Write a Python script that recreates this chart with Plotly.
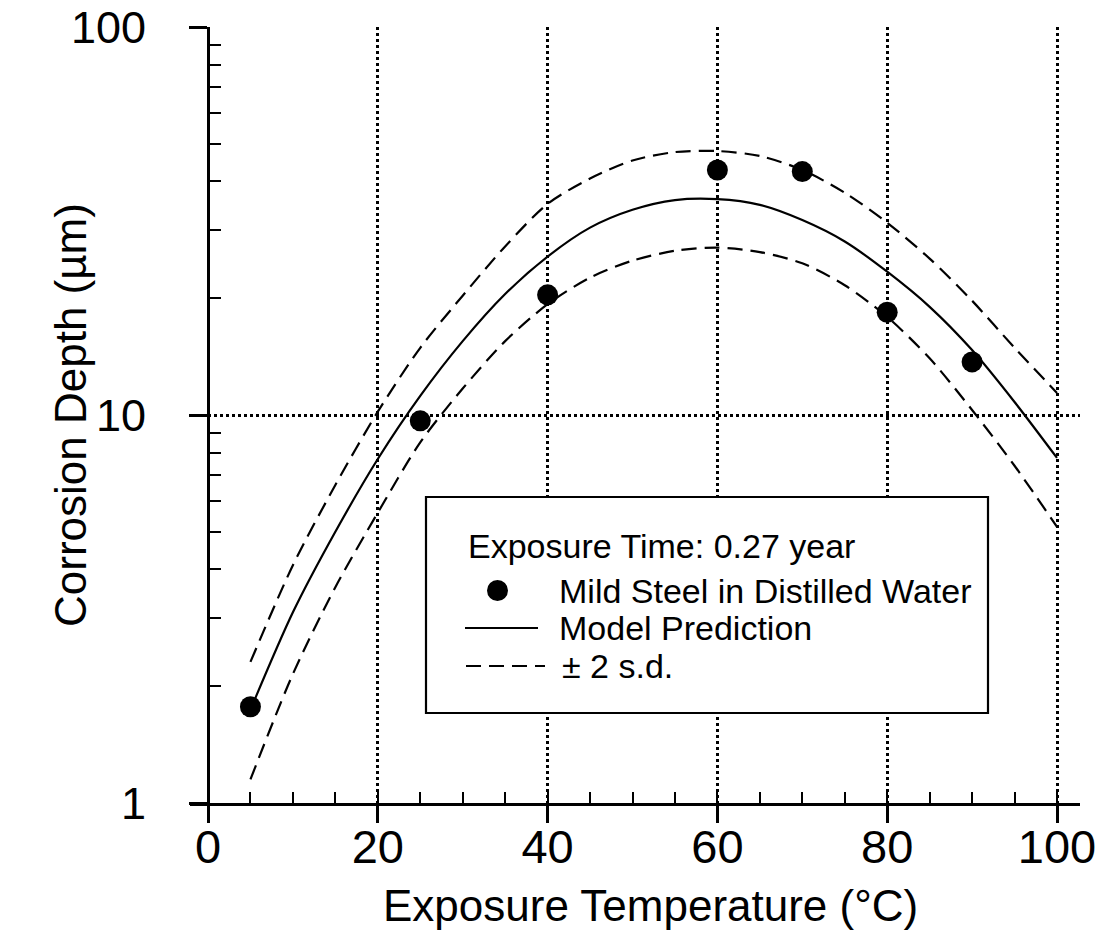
import plotly.graph_objects as go

# Measured corrosion depth of mild steel in distilled water (0.27 year exposure)
temp_obs = [5, 25, 40, 60, 70, 80, 90]
depth_obs = [1.77, 9.66, 20.4, 42.8, 42.4, 18.4, 13.7]

# Model prediction and +/- 2 s.d. band
temp_model = [5, 10, 15, 20, 25, 30, 35, 40, 45, 50,
              55, 60, 65, 70, 75, 80, 85, 90, 95, 100]
depth_model = [1.74, 3.1, 5.0, 7.7, 11.2, 15.5, 20.5, 25.6, 30.4, 33.8,
               35.8, 36.0, 34.8, 31.8, 28.0, 23.4, 19.0, 14.7, 10.8, 7.75]
depth_upper = [2.31, 4.1, 6.6, 10.2, 14.9, 20.3, 27.2, 35.0, 40.7, 45.3,
               47.6, 47.9, 46.5, 42.8, 37.4, 31.3, 25.3, 19.7, 14.9, 11.4]
depth_lower = [1.15, 2.15, 3.6, 5.6, 8.5, 11.7, 15.5, 19.3, 22.6, 25.0,
               26.5, 27.0, 26.3, 24.6, 21.6, 17.9, 14.0, 10.3, 7.4, 5.15]

x_major = [0, 20, 40, 60, 80, 100]
y_major = [1, 10, 100]
y_major_text = ["1", "10", "100"]
y_minor = [2, 3, 4, 5, 6, 7, 8, 9, 20, 30, 40, 50, 60, 70, 80, 90]

legend_title = "Exposure Time: 0.27 year"
name_obs = "Mild Steel in Distilled Water"
name_model = "Model Prediction"
name_band = "\u00b1 2 s.d."

W, H = 1102, 952
ML, MR, MT, MB = 190, 22, 27, 149
PW, PH = W - ML - MR, H - MT - MB
FONT = "Liberation Sans, Arial, sans-serif"
DASH = "15px,8px"
GRID_DASH = "2.5px,3.5px"


def px(x):
    return (x - ML) / PW


def py(y):
    return (H - MB - y) / PH


fig = go.Figure()
line_style = dict(color="black", width=2.2, shape="spline", smoothing=0.8)
fig.add_trace(go.Scatter(x=temp_model, y=depth_upper, mode="lines",
                         line=dict(line_style, dash=DASH), showlegend=False))
fig.add_trace(go.Scatter(x=temp_model, y=depth_lower, mode="lines",
                         line=dict(line_style, dash=DASH), showlegend=False))
fig.add_trace(go.Scatter(x=temp_model, y=depth_model, mode="lines",
                         line=line_style, showlegend=False))
fig.add_trace(go.Scatter(x=temp_obs, y=depth_obs, mode="markers",
                         marker=dict(color="black", size=21, line=dict(width=0)),
                         showlegend=False))

x_lo = -18 / 8.49
x_hi = (W - MR - 208) / 8.49
x_tick_font = dict(family=FONT, size=47, color="black")
y_tick_font = dict(family=FONT, size=45, color="black")

fig.update_layout(
    width=W, height=H,
    margin=dict(l=ML, r=MR, t=MT, b=MB, autoexpand=False),
    paper_bgcolor="white", plot_bgcolor="white",
    showlegend=False,
    xaxis=dict(
        range=[x_lo, x_hi], domain=[0, 1], anchor="y", automargin=False,
        tickvals=x_major, ticks="outside", ticklen=17, tickwidth=2.5, tickcolor="black",
        ticklabelstandoff=-16,
        showline=True, linewidth=3, linecolor="black",
        showgrid=True, gridcolor="black", gridwidth=2.5, griddash=GRID_DASH,
        zeroline=False, tickfont=x_tick_font,
        minor=dict(dtick=5, tick0=0, ticks="inside", ticklen=11, tickwidth=2.2,
                   tickcolor="black", showgrid=False),
    ),
    xaxis2=dict(
        range=[x_lo, x_hi], domain=[0, 1], overlaying="x", side="top", anchor="y",
        automargin=False,
        dtick=5, tick0=0, ticks="inside", ticklen=11, tickwidth=2.2, tickcolor="black",
        showticklabels=False, showline=True, linewidth=3, linecolor="black",
        showgrid=False, zeroline=False,
    ),
    yaxis=dict(
        type="log", range=[0, 2], domain=[0, 1], anchor="free", position=px(208),
        automargin=False,
        tickvals=y_major, ticktext=y_major_text, ticks="outside", ticklen=18,
        tickwidth=2.5, tickcolor="black", ticklabelstandoff=34,
        showline=True, linewidth=3, linecolor="black",
        showgrid=True, gridcolor="black", gridwidth=2.5, griddash=GRID_DASH,
        zeroline=False, tickfont=y_tick_font,
        minor=dict(tickvals=y_minor, ticks="inside", ticklen=11, tickwidth=2.2,
                   tickcolor="black", showgrid=False),
    ),
    yaxis2=dict(
        type="log", range=[0, 2], domain=[0, 1], overlaying="y", side="right", anchor="x",
        automargin=False,
        tickvals=y_minor, ticks="inside", ticklen=11, tickwidth=2.2, tickcolor="black",
        showticklabels=False, showline=True, linewidth=3, linecolor="black",
        showgrid=False, zeroline=False,
    ),
)

# Axis titles
fig.add_annotation(text="Exposure Temperature (\u00b0C)", xref="paper", yref="paper",
                   x=px(650), y=py(905), xanchor="center", yanchor="middle",
                   showarrow=False, font=dict(family=FONT, size=44, color="black"))
fig.add_annotation(text="Corrosion Depth (\u00b5m)", xref="paper", yref="paper",
                   x=px(70), y=py(415), xanchor="center", yanchor="middle",
                   showarrow=False, textangle=-90,
                   font=dict(family=FONT, size=44, color="black"))

# Legend box with its keys
fig.add_shape(type="rect", xref="paper", yref="paper",
              x0=px(426), x1=px(988), y0=py(713), y1=py(497),
              line=dict(color="black", width=2.2), fillcolor="white", layer="above")
legend_font = dict(family=FONT, size=34, color="black")


def legend_text(text, x, y):
    fig.add_annotation(text=text, xref="paper", yref="paper", x=px(x), y=py(y),
                       xanchor="left", yanchor="middle", showarrow=False,
                       font=legend_font)


legend_text(legend_title, 466, 546)
fig.add_shape(type="circle", xref="paper", yref="paper",
              x0=px(487), x1=px(508), y0=py(601), y1=py(580),
              line=dict(width=0), fillcolor="black", layer="above")
legend_text(name_obs, 557, 591)
fig.add_shape(type="line", xref="paper", yref="paper",
              x0=px(465), x1=px(538), y0=py(628), y1=py(628),
              line=dict(color="black", width=2), layer="above")
legend_text(name_model, 557, 628)
fig.add_shape(type="line", xref="paper", yref="paper",
              x0=px(466), x1=px(545), y0=py(666), y1=py(666),
              line=dict(color="black", width=2, dash=DASH), layer="above")
legend_text(name_band, 560, 666)

fig.write_html("out.html")
